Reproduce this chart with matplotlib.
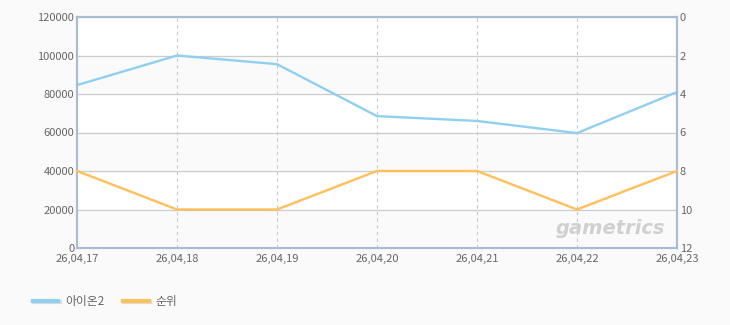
import matplotlib.pyplot as plt
from matplotlib.lines import Line2D
import matplotlib.patheffects as pe

plt.rcParams['font.family'] = ['Noto Sans CJK KR', 'DejaVu Sans']

dates = ['26,04,17', '26,04,18', '26,04,19', '26,04,20', '26,04,21', '26,04,22', '26,04,23']
users = [84600, 100000, 95500, 68500, 66000, 59700, 81000]
ranks = [8, 10, 10, 8, 8, 10, 8]

blue = '#8fd0f0'
orange = '#ffbf5a'
frame = '#a9bdd2'
txt = '#666666'

fig = plt.figure(figsize=(7.3, 3.25), dpi=100, facecolor='#fafafa')
ax = fig.add_axes([77 / 730, 1 - 248 / 325, 600 / 730, 231 / 325])
ax.set_facecolor('white')

x = list(range(len(dates)))
ax.set_xlim(0, len(dates) - 1)
ax.set_ylim(0, 120000)

# alternating bands
for i, lo in enumerate(range(0, 120000, 20000)):
    if i % 2 == 0:
        ax.axhspan(lo, lo + 20000, color='#fafafa', zorder=0)

ax.set_yticks(range(0, 120001, 20000))
ax.set_xticks(x)
ax.set_xticklabels(dates)
ax.grid(axis='y', color='#cccccc', linewidth=0.9, zorder=1)
for xi in x[1:-1]:
    ax.axvline(xi, color='#c8c8c8', linestyle=(0, (3, 3)), linewidth=0.8, zorder=1)

ax.text(0.98, 0.045, 'gametrics', transform=ax.transAxes, ha='right', va='bottom',
        fontsize=14, fontweight='bold', style='italic', color='#d0d0d0',
        family='DejaVu Sans', zorder=2)

ax.plot(x, users, color=blue, linewidth=1.7, zorder=3, clip_on=False)

ax2 = ax.twinx()
ax2.set_ylim(12, 0)
ax2.set_yticks(range(0, 13, 2))
ax2.plot(x, ranks, color=orange, linewidth=1.7, zorder=3, clip_on=False)

for a in (ax, ax2):
    for s in a.spines.values():
        s.set_color(frame)
        s.set_linewidth(1.5)
    a.tick_params(length=0, labelsize=8, colors=txt, pad=2)
ax.tick_params(axis='x', pad=4)

shadow = [pe.SimpleLineShadow(offset=(1, -1), shadow_color='#dddddd', alpha=1), pe.Normal()]
handles = [Line2D([], [], color=blue, linewidth=3, path_effects=shadow),
           Line2D([], [], color=orange, linewidth=3, path_effects=shadow)]
fig.legend(handles, ['아이온2', '순위'], loc='lower left', bbox_to_anchor=(0.03, 0.02),
           ncol=2, frameon=False, fontsize=8.5, labelcolor=txt,
           handlelength=2.2, columnspacing=1.5, handletextpad=0.6)

fig.savefig('out.png', dpi=100, facecolor=fig.get_facecolor())
